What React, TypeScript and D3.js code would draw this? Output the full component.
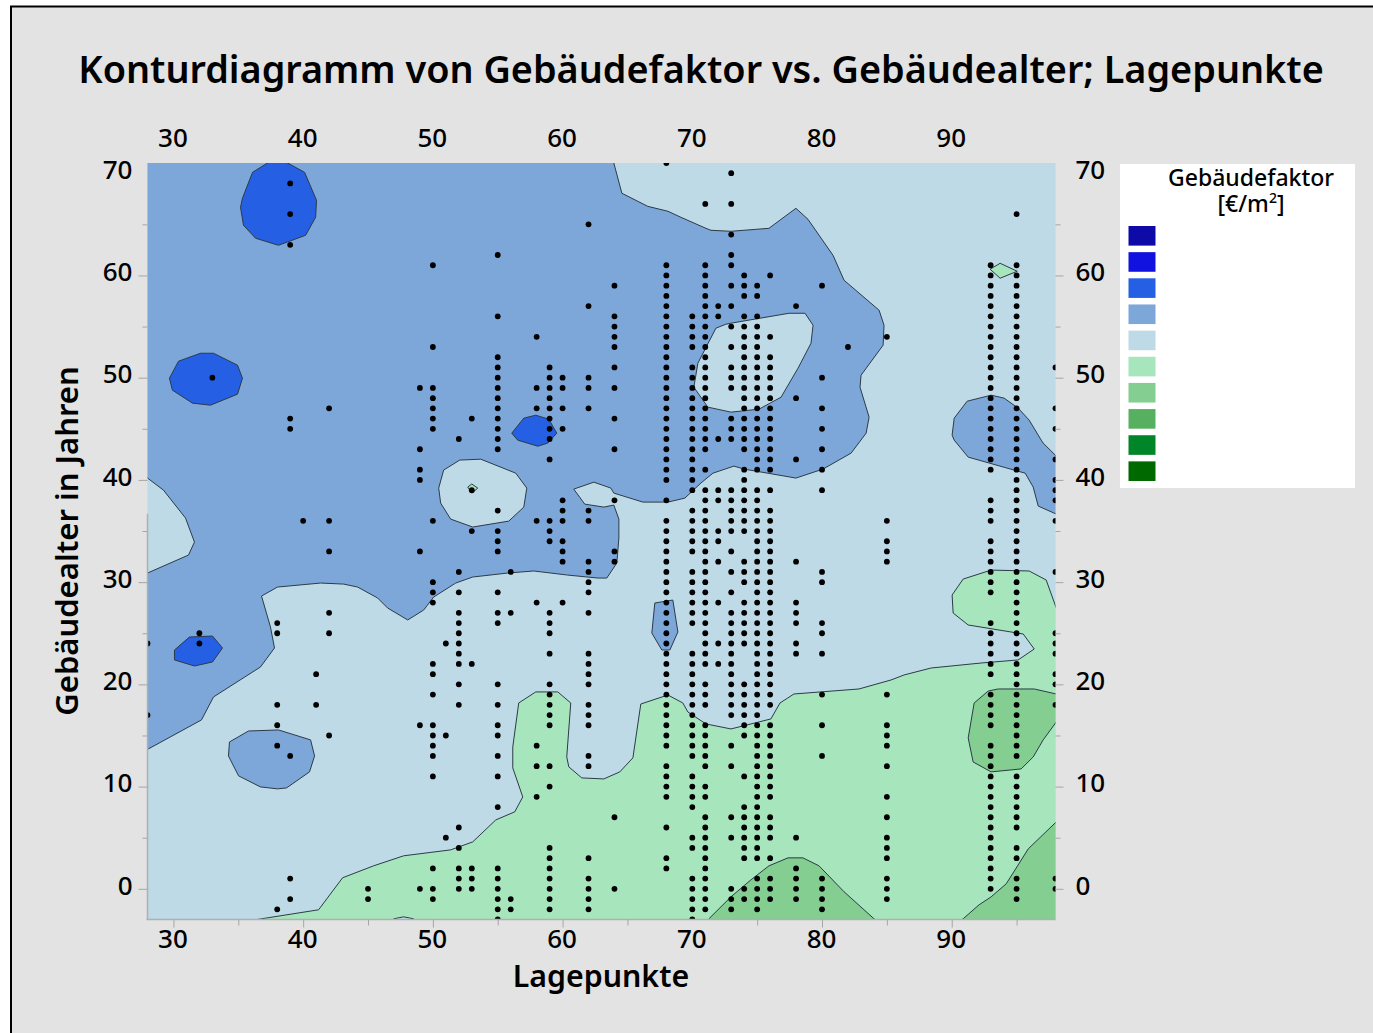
import { useEffect, useRef } from "react";
import * as d3 from "d3";

const width = 1373;
const height = 1033;
const marginLeft = 147.5;
const marginRight = 1055.5;
const marginTop = 163;
const marginBottom = 919.5;
const font = "'Noto Sans', sans-serif";

const xMajorTicks = [30, 40, 50, 60, 70, 80, 90];
const xMinorTicks = [35, 45, 55, 65, 75, 85, 95];
const yMajorTicks = [0, 10, 20, 30, 40, 50, 60, 70];
const yMinorTicks = [5, 15, 25, 35, 45, 55, 65];

const levelColors = ["#0E0AA8", "#1212E0", "#2560E4", "#7DA6D9", "#BDDAE6", "#A7E6BD", "#83CE90", "#56B05F", "#008528", "#006A00"];

type P = [number, number];

// contour outlines as [Lagepunkte, Gebäudealter]
const greenMain: P[] = [[36, -4], [36, -3.1], [36.79, -2.93], [41.19, -2.05], [43.04, 1.08], [45.43, 2.25], [47.75, 3.23], [51.37, 3.81], [53.07, 4.59], [54.85, 6.74], [56.31, 7.53], [56.93, 8.99], [56.16, 11.83], [56.16, 13.88], [56.62, 18.18], [57.93, 19.26], [59.63, 19.26], [60.63, 18.18], [60.32, 12.9], [60.48, 11.93], [61.48, 10.85], [63.18, 10.75], [64.41, 11.44], [65.42, 12.81], [66.03, 18.08], [68.12, 18.96], [69.27, 18.18], [69.66, 17.3], [71.05, 16.13], [72.98, 15.64], [76.06, 16.62], [76.76, 18.18], [77.84, 19.06], [82.85, 19.55], [85.32, 20.43], [86.33, 20.92], [88.41, 21.6], [92.27, 22.09], [95.12, 22.39], [96.36, 23.46], [95.51, 24.93], [91.27, 25.81], [90.11, 26.98], [90.03, 28.74], [90.88, 30.3], [93.04, 31.18], [95.97, 31.09], [97.28, 30.21], [98.06, 27.47], [99, 25], [99, -4]];
const notchBottom: P[] = [[46.98, -4], [46.98, -2.93], [47.75, -2.74], [48.52, -2.93], [48.52, -4]];
const greenDiamond: P[] = [[92.96, 60.61], [93.73, 61.19], [95.05, 60.41], [93.73, 59.73]];
const greenDot: P[] = [[52.69, 39.3], [53, 39.6], [53.46, 39.2], [53, 38.7]];

const hillRightTop: P[] = [[91.73, 18.18], [92.81, 19.35], [93.58, 19.55], [96.36, 19.55], [98.06, 19.06], [99, 18.9], [99, 15.6], [98.06, 16.32], [97.05, 14.57], [96.28, 12.9], [95.35, 11.73], [93.04, 11.44], [91.65, 12.41], [91.27, 14.76]];
const hillMiddle: P[] = [[70.5, -4], [71.28, -2.93], [72.98, -0.78], [74.52, 0.88], [75.91, 2.25], [77.38, 3.03], [78.53, 3.03], [79.77, 2.25], [81.7, -0.29], [84.01, -2.93], [85.1, -4]];
const hillCorner: P[] = [[89.7, -4], [90.88, -2.93], [92.11, -1.56], [93.04, -0.78], [94.2, 0.49], [95.9, 3.91], [98.06, 6.55], [99, 7.3], [99, -4]];

const blueMain: P[] = [[63.9, 72], [63.95, 71], [64.57, 68.04], [66.57, 66.76], [68.12, 66.28], [69.12, 65.69], [71.05, 64.61], [71.44, 64.42], [72.98, 64.32], [75.91, 64.61], [77.99, 66.57], [78.92, 65.49], [80.85, 61.97], [81.7, 59.53], [84.4, 56.6], [84.78, 55.13], [84.71, 53.18], [83.01, 50.24], [82.93, 49.07], [83.63, 46.14], [83.4, 44.57], [82.24, 42.62], [80.08, 41.06], [77.99, 40.18], [73.98, 41.06], [73.21, 41.35], [71.59, 40.66], [70.66, 39.69], [69.43, 38.22], [68.12, 37.83], [66.19, 37.83], [63.95, 38.71], [63.72, 39.2], [62.41, 39.78], [60.86, 39.1], [61.71, 37.63], [63.18, 37.34], [63.95, 37.54], [64.34, 36.17], [64.34, 34.31], [64.18, 31.87], [63.41, 30.4], [62.72, 30.4], [60.4, 30.69], [57.78, 31.09], [55.77, 30.89], [53.07, 30.5], [51.76, 29.91], [50.06, 28.54], [49.29, 27.27], [48.06, 26.3], [46.51, 27.47], [45.74, 28.45], [44.2, 29.52], [43.12, 29.81], [41.34, 29.91], [38.02, 29.52], [36.79, 28.64], [37.48, 25.61], [37.79, 23.56], [36.71, 21.7], [33.09, 18.77], [32.16, 16.52], [28.07, 13.69], [27, 13.2], [27, 30.5], [28, 30.89], [31.16, 32.65], [31.62, 33.92], [30.93, 36.27], [29.23, 39], [28, 40.18], [27, 41], [27, 72]];
const blueLowerLeft: P[] = [[34.32, 14.37], [35.79, 15.44], [38.1, 15.54], [40.57, 14.57], [40.88, 13], [40.49, 11.44], [38.72, 9.87], [38.02, 9.78], [36.71, 9.97], [35.02, 11.05], [34.24, 13]];
const blueNarrow: P[] = [[67.11, 27.96], [68.5, 28.25], [68.89, 25.12], [68.27, 23.36], [67.65, 23.36], [66.88, 25.02]];
const blueRight: P[] = [[91.19, 47.7], [93.04, 48.29], [94.04, 48], [95.12, 47.02], [95.97, 45.85], [96.9, 43.89], [97.05, 43.6], [98.06, 42.33], [99, 41.4], [99, 36.3], [98.06, 36.66], [96.67, 37.44], [96.28, 39.3], [95.66, 40.66], [94.81, 40.96], [91.27, 42.23], [90.19, 43.89], [90.03, 44.38], [90.19, 46.04]];

const lightIslandLeft: P[] = [[50.45, 39.2], [50.83, 40.96], [52.07, 41.94], [53.69, 42.03], [56.39, 40.66], [57.24, 39.2], [57.01, 37.34], [55.85, 35.97], [53.07, 35.39], [51.37, 36.17], [50.6, 37.73]];
const lightIslandRight: P[] = [[72.98, 55.33], [77.45, 56.3], [78.69, 56.3], [79.31, 55.13], [79.15, 53.37], [78.15, 50.93], [76.84, 48.09], [75.14, 46.92], [72.98, 46.63], [71.2, 47.12], [70.12, 49.07], [70.43, 51.42], [71.82, 54.84], [72.59, 55.23]];

const darkTop: P[] = [[37.25, 71], [38, 71.5], [38.8, 71], [40.11, 70.09], [41.03, 67.35], [40.96, 65.69], [40.19, 63.93], [38.1, 62.95], [36.33, 63.64], [35.4, 64.91], [35.17, 66.67], [35.32, 67.55], [36.1, 70.09]];
const darkLeft: P[] = [[29.69, 49.95], [30.39, 51.61], [32.08, 52.39], [33.09, 52.39], [34.94, 51.22], [35.32, 49.95], [34.94, 48.39], [32.85, 47.31], [31.47, 47.51], [29.92, 48.78]];
const darkLower: P[] = [[30.08, 23.36], [31.23, 24.63], [33.01, 24.73], [33.78, 23.56], [33.01, 22.19], [31.62, 21.8], [30.08, 22.39]];
const darkCentre: P[] = [[56.08, 44.57], [57.01, 46.04], [57.93, 46.33], [58.94, 45.94], [59.55, 44.57], [58.86, 43.6], [58.09, 43.3], [56.54, 43.89]];

// paint order matters, each entry is [outline, level index in levelColors]
const contourBands: [P[], number][] = [
  [greenMain, 5],
  [notchBottom, 4],
  [hillRightTop, 6],
  [hillMiddle, 6],
  [hillCorner, 6],
  [greenDiamond, 5],
  [blueMain, 3],
  [blueLowerLeft, 3],
  [blueNarrow, 3],
  [blueRight, 3],
  [lightIslandLeft, 4],
  [lightIslandRight, 4],
  [greenDot, 5],
  [darkTop, 2],
  [darkLeft, 2],
  [darkLower, 2],
  [darkCentre, 2],
];

// observed points, one list of ages per Lagepunkte value
const lagepunkte = [28, 32, 33, 38, 39, 40, 41, 42, 45, 49, 50, 51, 52, 53, 55, 56, 58, 59, 60, 62, 64, 68, 70, 71, 72, 73, 74, 75, 76, 78, 80, 82, 85, 93, 95, 98];
const gebaeudealter = [
  [24, 17],
  [25, 24],
  [50],
  [26, 25, 18, 16, 14, -2],
  [69, 66, 63, 46, 45, 13, 1, -1],
  [36],
  [21, 18],
  [47, 36, 33, 27, 25, 15],
  [0, -1],
  [49, 43, 41, 40, 33, 16, 0],
  [61, 53, 49, 48, 47, 46, 45, 36, 30, 29, 28, 22, 21, 19, 16, 15, 14, 13, 11, 2, 0, -1],
  [24, 15, 5],
  [44, 31, 29, 27, 26, 25, 24, 23, 22, 20, 18, 6, 4, 2, 1, 0],
  [46, 39, 35, 22, 2, 1, 0],
  [62, 56, 52, 51, 50, 49, 48, 47, 46, 45, 44, 43, 37, 35, 34, 33, 29, 27, 26, 20, 18, 16, 15, 13, 11, 8, 2, 1, 0, -1, -2, -3],
  [31, 27, -1, -2],
  [54, 49, 47, 36, 28, 14, 12, 9],
  [51, 50, 49, 48, 47, 46, 45, 44, 42, 36, 35, 34, 27, 26, 25, 23, 20, 19, 18, 17, 16, 12, 10, 4, 3, 2, 1, 0, -1, -2],
  [50, 49, 47, 45, 38, 37, 36, 34, 33, 32, 28],
  [65, 57, 50, 49, 47, 37, 36, 32, 31, 30, 29, 27, 23, 22, 21, 20, 18, 17, 16, 13, 12, 3, 1, 0, -1, -2],
  [59, 56, 55, 54, 53, 51, 49, 46, 43, 38, 33, 32, 7, 0],
  [71, 61, 60, 59, 58, 57, 56, 55, 54, 53, 52, 51, 50, 49, 48, 47, 46, 45, 44, 43, 42, 41, 40, 38, 36, 35, 34, 33, 32, 31, 30, 29, 28, 27, 26, 25, 24, 23, 22, 21, 20, 19, 18, 17, 16, 15, 14, 12, 11, 10, 9, 6, 3, 2],
  [56, 55, 54, 53, 51, 50, 49, 48, 47, 46, 45, 44, 43, 42, 41, 40, 39, 37, 36, 35, 34, 33, 31, 30, 29, 28, 27, 26, 23, 22, 21, 20, 19, 18, 17, 16, 15, 14, 13, 11, 10, 9, 8, 5, 4, 1, 0, -1, -2, -3],
  [67, 61, 60, 59, 58, 57, 56, 55, 54, 53, 52, 51, 50, 49, 48, 47, 46, 45, 44, 43, 41, 39, 38, 37, 36, 35, 34, 33, 32, 31, 30, 29, 28, 27, 26, 25, 24, 23, 22, 20, 19, 18, 16, 15, 14, 13, 12, 10, 9, 7, 6, 5, 4, 3, 2, 1, 0, -1, -2],
  [57, 56, 44, 39, 38, 35, 34, 32, 28, 24, 22],
  [70, 67, 64, 62, 61, 59, 57, 55, 53, 51, 50, 49, 46, 45, 44, 39, 38, 37, 36, 35, 33, 31, 29, 27, 26, 25, 24, 23, 22, 21, 20, 19, 18, 17, 14, 12, 7, 5, 0, -1, -2],
  [60, 59, 58, 56, 55, 54, 53, 52, 51, 50, 49, 48, 47, 46, 45, 44, 43, 41, 40, 39, 38, 37, 36, 35, 32, 31, 30, 28, 27, 26, 25, 24, 20, 19, 18, 17, 16, 15, 11, 8, 7, 6, 5, 4, 3, 0, -1],
  [59, 58, 56, 55, 54, 53, 52, 51, 50, 49, 48, 47, 46, 45, 44, 43, 42, 41, 39, 38, 37, 36, 35, 34, 33, 32, 31, 30, 29, 28, 27, 26, 25, 24, 23, 22, 21, 20, 19, 18, 17, 16, 15, 14, 13, 12, 11, 10, 9, 8, 7, 6, 5, 4, 3, 1, 0, -1, -2],
  [60, 54, 52, 51, 50, 49, 48, 47, 46, 45, 44, 43, 42, 41, 39, 37, 36, 35, 34, 33, 32, 31, 30, 29, 28, 27, 26, 25, 24, 23, 22, 21, 20, 19, 18, 16, 15, 14, 13, 12, 11, 10, 9, 7, 6, 5, 3, 1, 0, -1],
  [57, 48, 42, 32, 28, 27, 26, 24, 23, 5, 2, 1, 0, -1],
  [59, 50, 47, 45, 43, 41, 39, 31, 30, 26, 25, 23, 19, 16, 13, 1, 0, -1, -2],
  [53],
  [54, 36, 34, 33, 32, 19, 16, 15, 14, 12, 9, 7, 5, 4, 3, 1, 0, -1],
  [61, 60, 59, 58, 57, 56, 55, 54, 53, 52, 51, 50, 49, 48, 47, 46, 45, 44, 43, 42, 41, 38, 37, 36, 34, 33, 32, 31, 30, 29, 26, 25, 24, 23, 22, 21, 19, 18, 17, 16, 14, 13, 12, 11, 10, 9, 8, 7, 6, 5, 4, 3, 2, 1, 0],
  [66, 61, 60, 59, 58, 57, 56, 55, 54, 53, 52, 51, 50, 49, 48, 47, 46, 45, 44, 43, 42, 41, 40, 39, 38, 37, 36, 35, 34, 33, 32, 31, 30, 29, 28, 27, 26, 25, 24, 23, 22, 21, 20, 19, 18, 17, 16, 15, 14, 13, 11, 10, 9, 8, 7, 6, 4, 3, 1, 0, -1],
  [51, 47, 45, 42, 40, 39, 38, 36, 31, 25, 24, 23, 21, 20, 18, 1, 0],
];

const x = d3.scaleLinear([28, 98], [marginLeft, marginRight]);
const y = d3.scaleLinear([-3, 71], [marginBottom, marginTop]);
const legendY = d3.scaleBand(d3.range(levelColors.length), [226, 481]).paddingInner(0.25).paddingOuter(0);

const outline = d3.line<P>().x((d) => x(d[0])).y((d) => y(d[1]));

export default function App() {
  const axes = useRef<SVGGElement>(null);

  useEffect(() => {
    const g = d3.select(axes.current);
    g.selectAll("*").remove();
    const tickColor = "#a6a6a6";
    const draw = (axis: any, tx: number, ty: number, dy: number) => {
      const a = g.append("g").attr("transform", `translate(${tx},${ty})`).call(axis);
      a.select(".domain").remove();
      a.selectAll("line").attr("stroke", tickColor);
      a.selectAll("text")
        .attr("dx", -1)
        .attr("dy", dy)
        .attr("fill", "#000")
        .style("font-family", font)
        .style("font-size", "26px")
        .style("font-weight", 500);
      return a;
    };
    const major = (make: any, scale: any, ticks: number[], size: number, padding: number) =>
      make(scale).tickValues(ticks).tickSize(size).tickPadding(padding).tickFormat(d3.format("d"));
    const minor = (make: any, scale: any, ticks: number[], size: number) =>
      make(scale).tickValues(ticks).tickSize(size).tickFormat(() => "");

    draw(major(d3.axisBottom, x, xMajorTicks, 8, 2), 0, marginBottom, 18);
    draw(minor(d3.axisBottom, x, xMinorTicks, 6), 0, marginBottom, 0);
    draw(major(d3.axisTop, x, xMajorTicks, 0, 16), 0, marginTop, 0);
    draw(major(d3.axisLeft, y, yMajorTicks, 9, 5), marginLeft, 0, 5.3);
    draw(minor(d3.axisLeft, y, yMinorTicks, 5), marginLeft, 0, 0);
    draw(major(d3.axisRight, y, yMajorTicks, 8, 13), marginRight, 0, 5.3);
    draw(minor(d3.axisRight, y, yMinorTicks, 5), marginRight, 0, 0);
    g.selectAll(".tick")
      .filter((d: any) => d === 70)
      .select("line")
      .remove();
  }, []);

  return (
    <svg width={width} height={height} style={{ position: "absolute", left: 0, top: 0 }}>
      <defs>
        <clipPath id="plot">
          <rect x={marginLeft} y={marginTop} width={marginRight - marginLeft} height={marginBottom - marginTop} />
        </clipPath>
      </defs>
      <rect x={0} y={0} width={width} height={height} fill="#fff" />
      <rect x={11} y={6.5} width={width} height={height} fill="#E3E3E3" stroke="#000" strokeWidth={2} />

      <text x={701} y={83} textAnchor="middle" fontFamily={font} fontSize={37.8} fontWeight={600}>
        Konturdiagramm von Gebäudefaktor vs. Gebäudealter; Lagepunkte
      </text>

      <rect x={marginLeft} y={marginTop} width={marginRight - marginLeft} height={marginBottom - marginTop} fill={levelColors[4]} />
      <g clipPath="url(#plot)">
        {contourBands.map(([pts, level], i) => (
          <path key={i} d={outline(pts) + "Z"} fill={levelColors[level]} stroke="#2b3b47" strokeWidth={1} strokeLinejoin="round" />
        ))}
        <g fill="#000">
          {lagepunkte.map((lage, i) =>
            gebaeudealter[i].map((age) => <circle key={`${lage}-${age}`} cx={x(lage)} cy={y(age)} r={2.9} />)
          )}
        </g>
      </g>

      <line x1={marginLeft} x2={marginLeft} y1={y(36.7)} y2={marginBottom} stroke="#b0b0b0" strokeWidth={1.5} />
      <line x1={marginLeft - 1} x2={marginRight} y1={marginBottom} y2={marginBottom} stroke="#b0b0b0" strokeWidth={1.5} />
      <g ref={axes}></g>

      <text x={601} y={987} textAnchor="middle" fontFamily={font} fontSize={30.3} fontWeight={600}>
        Lagepunkte
      </text>
      <text transform="translate(78,541) rotate(-90)" textAnchor="middle" fontFamily={font} fontSize={31} fontWeight={600}>
        Gebäudealter in Jahren
      </text>

      <rect x={1120} y={164} width={235} height={324} fill="#fff" />
      <text x={1251} y={186} textAnchor="middle" fontFamily={font} fontSize={23} fontWeight={500}>
        Gebäudefaktor
      </text>
      <text x={1251} y={212} textAnchor="middle" fontFamily={font} fontSize={23} fontWeight={500}>
        [€/m<tspan fontSize={14} dy={-9}>2</tspan><tspan dy={9}>]</tspan>
      </text>
      {levelColors.map((c, i) => (
        <rect key={c} x={1128.5} y={legendY(i)} width={27} height={legendY.bandwidth()} fill={c} />
      ))}
    </svg>
  );
}
